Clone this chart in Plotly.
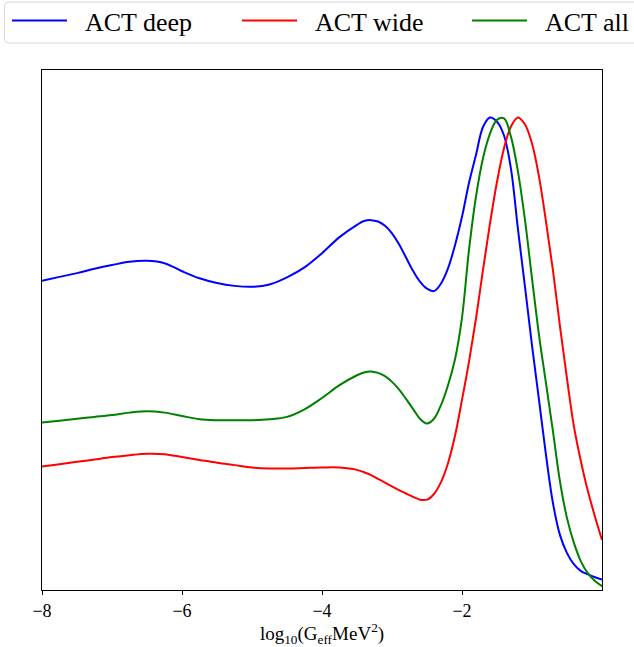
import plotly.graph_objects as go

# ---- data (x = log10(G_eff MeV^2), y = normalised posterior) ----
grid_x = [-8.0, -7.75, -7.5, -7.25, -7.0, -6.75, -6.5, -6.25, -6.0, -5.75, -5.5, -5.25,
          -5.0, -4.75, -4.5, -4.25, -4.0, -3.75, -3.5, -3.4, -3.3, -3.2, -3.1, -3.0, -2.9,
          -2.8, -2.7, -2.6, -2.5, -2.4, -2.3, -2.2, -2.1, -2.0, -1.9, -1.8, -1.7, -1.6,
          -1.5, -1.4, -1.3, -1.2, -1.1, -1.0, -0.9, -0.8, -0.7, -0.6, -0.5, -0.4, -0.3,
          -0.2, -0.1, 0.0]

deep_y = [0.654, 0.662, 0.670, 0.679, 0.687, 0.694, 0.696, 0.691, 0.674, 0.659, 0.649, 0.643,
          0.641, 0.646, 0.661, 0.682, 0.712, 0.746, 0.772, 0.780, 0.782, 0.779, 0.770, 0.754,
          0.731, 0.703, 0.675, 0.652, 0.637, 0.632, 0.648, 0.680, 0.729, 0.789, 0.861, 0.920,
          0.979, 0.999, 0.990, 0.961, 0.890, 0.762, 0.641, 0.517, 0.402, 0.285, 0.183, 0.116,
          0.078, 0.054, 0.040, 0.033, 0.027, 0.022]

wide_y = [0.261, 0.266, 0.271, 0.276, 0.281, 0.285, 0.288, 0.287, 0.281, 0.275, 0.269, 0.264,
          0.259, 0.257, 0.257, 0.258, 0.259, 0.259, 0.254, 0.249, 0.243, 0.235, 0.227, 0.219,
          0.211, 0.204, 0.197, 0.191, 0.191, 0.203, 0.228, 0.268, 0.326, 0.402, 0.483, 0.574,
          0.677, 0.775, 0.863, 0.934, 0.980, 0.999, 0.984, 0.944, 0.874, 0.779, 0.675, 0.557,
          0.447, 0.345, 0.271, 0.208, 0.155, 0.106]

all_y = [0.354, 0.358, 0.362, 0.366, 0.370, 0.375, 0.378, 0.375, 0.368, 0.361, 0.359, 0.359,
         0.359, 0.361, 0.366, 0.382, 0.406, 0.433, 0.454, 0.460, 0.462, 0.459, 0.452, 0.440,
         0.424, 0.404, 0.383, 0.362, 0.352, 0.362, 0.391, 0.433, 0.488, 0.576, 0.719, 0.832,
         0.913, 0.965, 0.994, 0.997, 0.958, 0.884, 0.782, 0.659, 0.539, 0.437, 0.335, 0.229,
         0.152, 0.099, 0.060, 0.035, 0.019, 0.008]

names = ["ACT deep", "ACT wide", "ACT all"]
colors = ["blue", "red", "green"]
tick_vals = [-8, -6, -4, -2]
tick_text = ["\u22128", "\u22126", "\u22124", "\u22122"]

SERIF = "Liberation Serif, Times New Roman, serif"

W, H = 634, 647
L, R, T, B = 42, 32, 70, 57
pw, ph = W - L - R, H - T - B


def px2paper_x(px):
    return (px - L) / pw


def py2paper_y(py):
    return (H - B - py) / ph


fig = go.Figure()
series = [deep_y, wide_y, all_y]
legend_ids = ["legend", "legend2", "legend3"]
for ys, name, col, lg in zip(series, names, colors, legend_ids):
    fig.add_trace(go.Scatter(
        x=grid_x, y=ys, mode="lines", name="\u00a0\u00a0" + name, legend=lg,
        line=dict(color=col, width=2, shape="spline", smoothing=1.0),
    ))


def legend_cfg(px):
    return dict(
        x=px2paper_x(px), xref="paper", xanchor="left",
        y=py2paper_y(-3), yref="paper", yanchor="top",
        orientation="h", bgcolor="rgba(0,0,0,0)", borderwidth=0,
        font=dict(family=SERIF, size=26, color="black"),
        itemwidth=55,
    )


# legend frame (rounded rectangle) spanning the top of the figure
x0, x1 = px2paper_x(4.5), px2paper_x(660)
y0, y1 = py2paper_y(43), py2paper_y(2)
rx, ry = 4 / pw, 4 / ph
frame_path = (
    f"M {x0 + rx},{y1} L {x1 - rx},{y1} Q {x1},{y1} {x1},{y1 - ry} "
    f"L {x1},{y0 + ry} Q {x1},{y0} {x1 - rx},{y0} "
    f"L {x0 + rx},{y0} Q {x0},{y0} {x0},{y0 + ry} "
    f"L {x0},{y1 - ry} Q {x0},{y1} {x0 + rx},{y1} Z"
)

fig.update_layout(
    width=W, height=H,
    margin=dict(l=L, r=R, t=T, b=B, autoexpand=False),
    paper_bgcolor="white", plot_bgcolor="white",
    font=dict(family=SERIF, color="black"),
    showlegend=True,
    legend=legend_cfg(7),
    legend2=legend_cfg(237),
    legend3=legend_cfg(467),
    shapes=[dict(type="path", path=frame_path, xref="paper", yref="paper",
                 line=dict(color="#d6d6d6", width=1), fillcolor="rgba(0,0,0,0)",
                 layer="below")],
    xaxis=dict(
        range=[-8, 0], tickmode="array", tickvals=tick_vals, ticktext=tick_text,
        ticks="outside", ticklen=4, tickwidth=1, tickcolor="black",
        showline=True, linecolor="black", linewidth=1, mirror=True,
        showgrid=False, zeroline=False,
        tickfont=dict(family=SERIF, size=18, color="black"),
        title=dict(text="log<sub>10</sub>(G<sub>eff</sub>MeV<sup>2</sup>)",
                   font=dict(family=SERIF, size=19, color="black"), standoff=9),
    ),
    yaxis=dict(
        range=[0, 1.0994], showticklabels=False, ticks="",
        showline=True, linecolor="black", linewidth=1, mirror=True,
        showgrid=False, zeroline=False,
    ),
)

fig.write_html("out.html",
               config={"displayModeBar": False},
               post_script="document.body.style.margin='0px';document.body.style.overflow='hidden';")
